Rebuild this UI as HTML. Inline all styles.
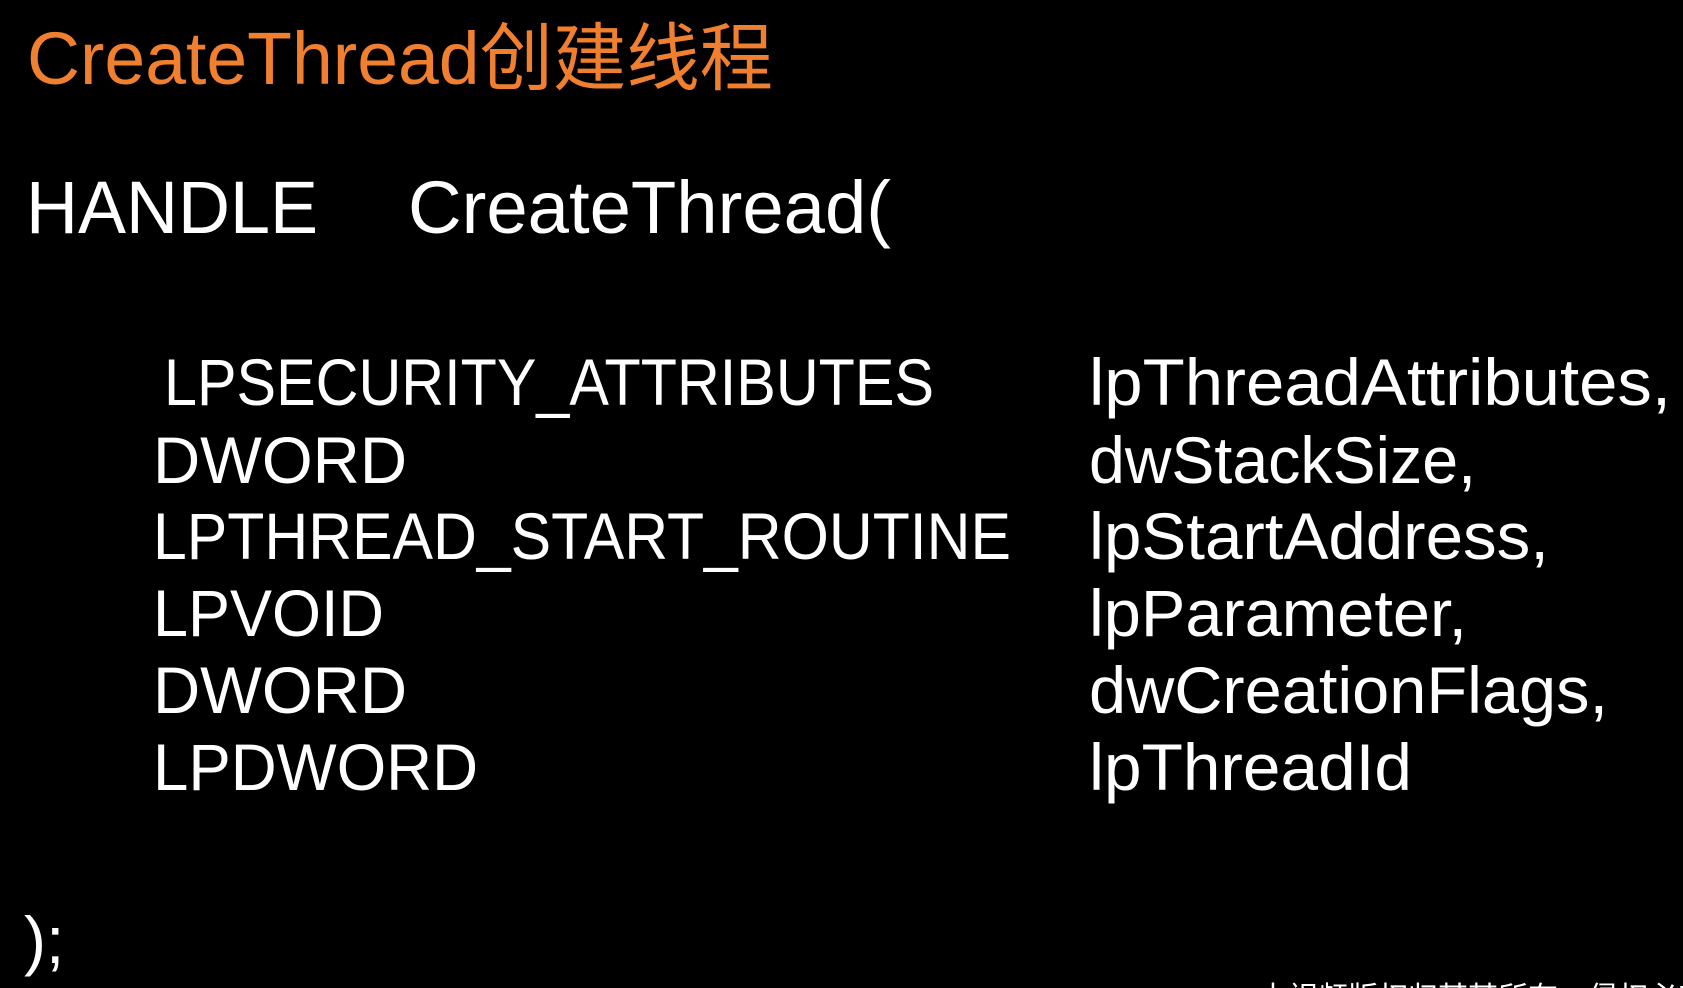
<!DOCTYPE html>
<html><head><meta charset="utf-8"><style>
html,body{margin:0;padding:0;background:#000;width:1683px;height:988px;overflow:hidden}
svg{display:block}
text{font-family:"Liberation Sans","Noto Sans CJK SC",sans-serif;fill:#fff}
</style></head><body>
<svg width="1683" height="988" viewBox="0 0 1683 988">
<rect width="1683" height="988" fill="#000"/>
<text x="27" y="84" font-size="74" textLength="746" lengthAdjust="spacingAndGlyphs" style="fill:#f08030">CreateThread创建线程</text>
<text x="26" y="233" font-size="74" textLength="292" lengthAdjust="spacingAndGlyphs">HANDLE</text>
<text x="408" y="233" font-size="74" textLength="483" lengthAdjust="spacingAndGlyphs">CreateThread(</text>
<g font-size="66">
<text x="164" y="405" textLength="770" lengthAdjust="spacingAndGlyphs">LPSECURITY_ATTRIBUTES</text>
<text x="1089" y="405" textLength="582" lengthAdjust="spacingAndGlyphs">lpThreadAttributes,</text>
<text x="153" y="483" textLength="254" lengthAdjust="spacingAndGlyphs">DWORD</text>
<text x="1089" y="483" textLength="387" lengthAdjust="spacingAndGlyphs">dwStackSize,</text>
<text x="153" y="559" textLength="858" lengthAdjust="spacingAndGlyphs">LPTHREAD_START_ROUTINE</text>
<text x="1089" y="559" textLength="460" lengthAdjust="spacingAndGlyphs">lpStartAddress,</text>
<text x="153" y="636" textLength="231" lengthAdjust="spacingAndGlyphs">LPVOID</text>
<text x="1089" y="636" textLength="378" lengthAdjust="spacingAndGlyphs">lpParameter,</text>
<text x="153" y="713" textLength="254" lengthAdjust="spacingAndGlyphs">DWORD</text>
<text x="1089" y="713" textLength="519" lengthAdjust="spacingAndGlyphs">dwCreationFlags,</text>
<text x="153" y="790" textLength="325" lengthAdjust="spacingAndGlyphs">LPDWORD</text>
<text x="1089" y="790" textLength="323" lengthAdjust="spacingAndGlyphs">lpThreadId</text>
<text x="24" y="963">);</text>
</g>
<text x="1258" y="1008" font-size="30">本视频版权归某某所有，侵权必究</text>
</svg>
</body></html>
